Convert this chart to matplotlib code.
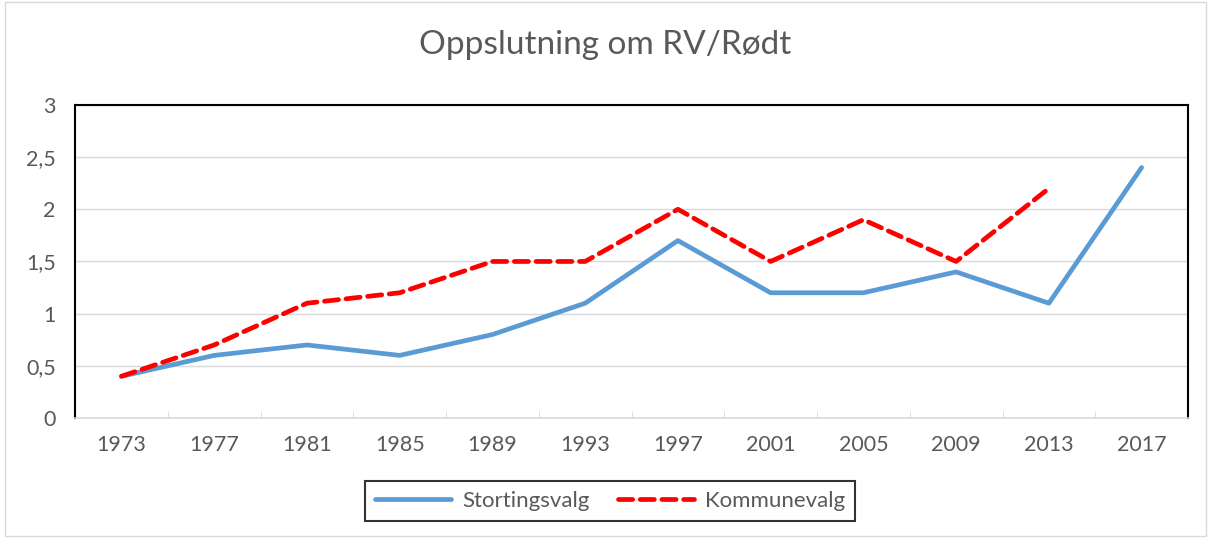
import matplotlib.pyplot as plt
from matplotlib.patches import Rectangle
from matplotlib.ticker import FixedLocator, FuncFormatter

years = ['1973', '1977', '1981', '1985', '1989', '1993', '1997', '2001', '2005', '2009', '2013', '2017']
stortingsvalg = [0.4, 0.6, 0.7, 0.6, 0.8, 1.1, 1.7, 1.2, 1.2, 1.4, 1.1, 2.4]
kommunevalg = [0.4, 0.7, 1.1, 1.2, 1.5, 1.5, 2.0, 1.5, 1.9, 1.5, 2.2]

plt.rcParams['font.family'] = ['Lato', 'DejaVu Sans']
grey = '#595959'

fig = plt.figure(figsize=(12.11, 5.38), dpi=100)
fig.patches.append(Rectangle((0.004, 0.004), 0.992, 0.992, transform=fig.transFigure,
                             fill=False, edgecolor='#d9d9d9', linewidth=1))
ax = fig.add_axes([0.062, 0.223, 0.919, 0.582])

x = list(range(len(years)))
ax.plot(x, stortingsvalg, color='#5B9BD5', linewidth=3.4, solid_capstyle='round',
        label='Stortingsvalg', zorder=3)
ax.plot(x[:len(kommunevalg)], kommunevalg, color='#FF0000', linewidth=3.4,
        dashes=(3, 1.6), dash_capstyle='round', label='Kommunevalg', zorder=4)

ax.set_xlim(-0.5, len(years) - 0.5)
ax.set_ylim(0, 3)
ax.set_yticks([0, 0.5, 1, 1.5, 2, 2.5, 3])
ax.yaxis.set_major_formatter(FuncFormatter(lambda v, p: f'{v:g}'.replace('.', ',')))
ax.set_xticks(x)
ax.set_xticklabels(years)
ax.xaxis.set_minor_locator(FixedLocator([i + 0.5 for i in range(-1, len(years))]))
ax.tick_params(axis='x', which='major', length=0, pad=12, labelsize=15.5, labelcolor=grey)
ax.tick_params(axis='x', which='minor', length=5, color='#d9d9d9', direction='in')
ax.tick_params(axis='y', length=0, pad=14, labelsize=15.5, labelcolor=grey)

ax.grid(axis='y', color='#d9d9d9', linewidth=1)
ax.set_axisbelow(True)
for side in ['left', 'top', 'right']:
    ax.spines[side].set_color('black')
    ax.spines[side].set_linewidth(1.5)
ax.spines['bottom'].set_color('#d9d9d9')
ax.spines['bottom'].set_linewidth(1.2)

fig.suptitle('Oppslutning om RV/Rødt', y=0.945, fontsize=24, color=grey)

leg = fig.legend(loc='center', bbox_to_anchor=(0.504, 0.069), ncol=2, fontsize=16,
                 frameon=True, fancybox=False, handlelength=3.4, handletextpad=0.5,
                 columnspacing=1.3, borderpad=0.45, labelcolor=grey)
leg.get_frame().set_edgecolor('black')
leg.get_frame().set_linewidth(1.5)

fig.savefig('out.png', dpi=100)
